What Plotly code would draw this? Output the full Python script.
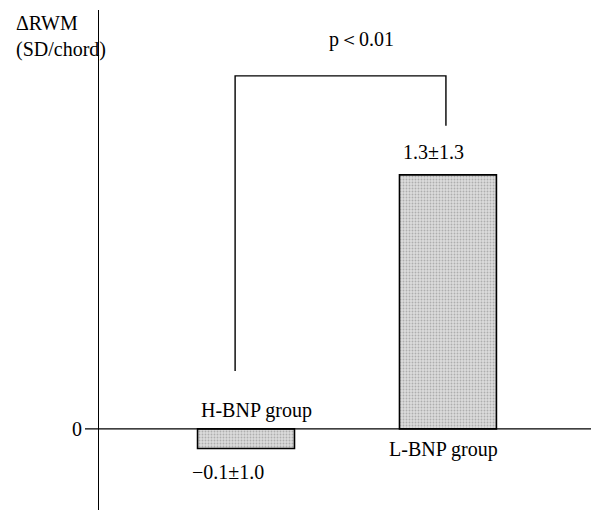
import plotly.graph_objects as go

groups = ["H-BNP group", "L-BNP group"]
group_x = [1, 2]
values = [-0.1, 1.3]
value_labels = ["−0.1±1.0", "1.3±1.3"]
p_text = "p＜0.01"

SERIF = "Liberation Serif, Times New Roman, serif"

fig = go.Figure()
fig.add_trace(go.Bar(
    x=group_x, y=values, width=0.48,
    marker=dict(color="#d0d0d0",
                line=dict(color="black", width=1.6),
                pattern=dict(shape=".", size=3, solidity=0.3, fgcolor="#808080", bgcolor="#dcdcdc")),
    showlegend=False, hoverinfo="skip",
))

# zero line
fig.add_shape(type="line", xref="paper", yref="y", x0=-0.028, x1=1, y0=0, y1=0,
              line=dict(color="black", width=1.4))
# bracket
fig.add_shape(type="path", xref="x", yref="y",
              path="M 0.946 0.297 L 0.946 1.807 L 1.99 1.807 L 1.99 1.551",
              line=dict(color="black", width=1.4))

font = dict(family=SERIF, size=20, color="black")
annots = [
    dict(x=1.05, y=0, text=groups[0], yshift=18),
    dict(x=1.98, y=0, text=groups[1], yshift=-21),
    dict(x=0.91, y=values[0], text=value_labels[0], yshift=-24),
    dict(x=1.93, y=values[1], text=value_labels[1], yshift=23),
    dict(x=1.57, y=1.807, text=p_text, yshift=36),
]
for a in annots:
    fig.add_annotation(x=a["x"], y=a["y"], text=a["text"], yshift=a["yshift"],
                       showarrow=False, font=font, xref="x", yref="y")

fig.add_annotation(x=-0.03, y=0, xref="paper", yref="y", text="0", showarrow=False,
                   font=font, xanchor="right")
fig.add_annotation(x=-0.17, y=1.0, xref="paper", yref="paper", text="ΔRWM<br>(SD/chord)",
                   showarrow=False, font=dict(family=SERIF, size=20, color="black"),
                   xanchor="left", yanchor="top", align="left")

fig.update_layout(
    width=591, height=505,
    margin=dict(l=91, r=0, t=2, b=3),
    plot_bgcolor="white", paper_bgcolor="white",
    xaxis=dict(range=[0.272, 2.748], visible=False),
    yaxis=dict(range=[-0.415, 2.144], showgrid=False, zeroline=False,
               showticklabels=False, ticks="", showline=True,
               linecolor="black", linewidth=1.4),
)

fig.write_html("out.html")
